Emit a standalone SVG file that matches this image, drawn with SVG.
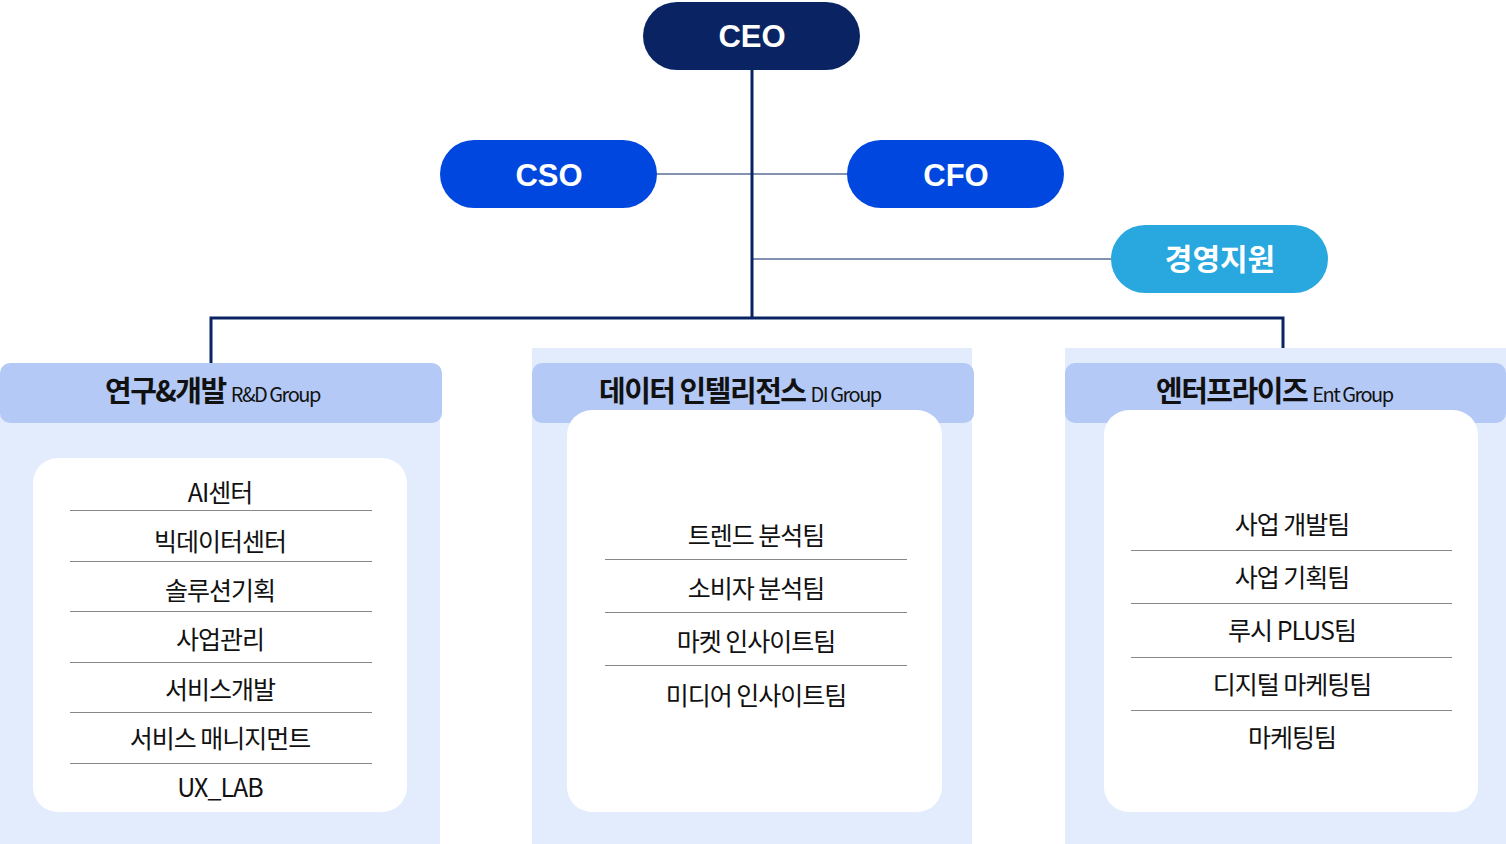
<svg xmlns="http://www.w3.org/2000/svg" width="1506" height="844" viewBox="0 0 1506 844">
<style>
.pill{font-family:"Liberation Sans",Arial,sans-serif;font-weight:bold;font-size:31px;fill:#fff;text-anchor:middle}
.kp{font-family:"Noto Sans CJK KR","Liberation Sans",sans-serif;font-weight:bold;font-size:30px;fill:#fff;text-anchor:middle}
.hd{font-family:"Noto Sans CJK KR",sans-serif;font-weight:bold;font-size:29px;fill:#111;letter-spacing:-1.5px}
.sub{font-family:"Noto Sans CJK KR",sans-serif;font-weight:normal;font-size:20px;letter-spacing:-1.5px}
.it{font-family:"Noto Sans CJK KR",sans-serif;font-size:25px;fill:#111;text-anchor:middle;letter-spacing:-1px}
.sep{stroke:#888;stroke-width:1}
.bg{fill:#e3ecfd}
.hdr{fill:#b4c9f5}
</style>
<g id="connectors" fill="none" stroke="#0a2463">
<path d="M752 68V318M211 363V318H1283V363" stroke-width="3"/>
<path d="M656 174H848M752 259H1112" stroke-width="1.2"/>
</g>
<g id="ceo"><rect x="643" y="2" width="217" height="68" rx="34" fill="#0a2463"/><text class="pill" x="752" y="47">CEO</text></g>
<g id="cso"><rect x="440" y="140" width="217" height="68" rx="34" fill="#0047e0"/><text class="pill" x="549" y="186">CSO</text></g>
<g id="cfo"><rect x="847" y="140" width="217" height="68" rx="34" fill="#0047e0"/><text class="pill" x="956" y="186">CFO</text></g>
<g id="support"><rect x="1111" y="225" width="217" height="68" rx="34" fill="#29a8e0"/><text class="kp" x="1220" y="270">경영지원</text></g>
<g id="rnd">
<rect class="bg" x="0" y="380" width="440" height="464"/>
<rect class="hdr" x="0" y="363" width="442" height="60" rx="10"/>
<text class="hd" x="105" y="402">연구&amp;개발 <tspan class="sub">R&amp;D Group</tspan></text>
<rect x="33" y="458" width="374" height="354" rx="25" fill="#fff"/>
<text class="it" x="220" y="502">AI센터</text>
<text class="it" x="220" y="551">빅데이터센터</text>
<text class="it" x="220" y="600">솔루션기획</text>
<text class="it" x="220" y="649">사업관리</text>
<text class="it" x="220" y="699">서비스개발</text>
<text class="it" x="220" y="748">서비스 매니지먼트</text>
<text class="it" x="220" y="797">UX_LAB</text>
<path class="sep" d="M70 510.5H372M70 561.5H372M70 611.5H372M70 662.5H372M70 712.5H372M70 763.5H372"/>
</g>
<g id="di">
<rect class="bg" x="532" y="348" width="440" height="496"/>
<rect class="hdr" x="532" y="363" width="442" height="60" rx="10"/>
<text class="hd" x="599" y="402">데이터 인텔리전스 <tspan class="sub">DI Group</tspan></text>
<rect x="567" y="410" width="375" height="402" rx="25" fill="#fff"/>
<text class="it" x="756" y="545">트렌드 분석팀</text>
<text class="it" x="756" y="598">소비자 분석팀</text>
<text class="it" x="756" y="651">마켓 인사이트팀</text>
<text class="it" x="756" y="705">미디어 인사이트팀</text>
<path class="sep" d="M605 559.5H907M605 612.5H907M605 665.5H907"/>
</g>
<g id="ent">
<rect class="bg" x="1065" y="348" width="441" height="496"/>
<rect class="hdr" x="1065" y="363" width="441" height="60" rx="10"/>
<text class="hd" x="1156" y="402">엔터프라이즈 <tspan class="sub">Ent Group</tspan></text>
<rect x="1104" y="410" width="374" height="402" rx="25" fill="#fff"/>
<text class="it" x="1292" y="534">사업 개발팀</text>
<text class="it" x="1292" y="587">사업 기획팀</text>
<text class="it" x="1292" y="640">루시 PLUS팀</text>
<text class="it" x="1292" y="694">디지털 마케팅팀</text>
<text class="it" x="1292" y="747">마케팅팀</text>
<path class="sep" d="M1131 550.5H1452M1131 603.5H1452M1131 657.5H1452M1131 710.5H1452"/>
</g>
</svg>
